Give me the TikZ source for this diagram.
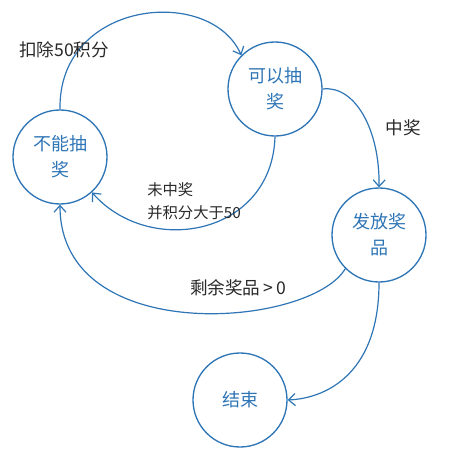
\documentclass[tikz,border=0pt]{standalone}
\usepackage{fontspec}
\setmainfont{Noto Sans CJK SC}
\usetikzlibrary{arrows.meta}
\definecolor{sblue}{RGB}{46,117,182}
\definecolor{ltext}{RGB}{40,40,40}
\begin{document}
\begin{tikzpicture}[x=0.75pt,y=-0.75pt,
  state/.style={circle,draw=sblue,line width=1pt,minimum size=70.5pt,inner sep=0pt,
    text=sblue,align=center,font=\fontsize{13.5}{19.5}\selectfont},
  edge/.style={draw=sblue,line width=0.9pt,-{Straight Barb[length=5pt,width=9pt]}},
  lab/.style={text=ltext,font=\fontsize{13.2}{17}\selectfont,inner sep=0pt},
  smalllab/.style={text=ltext,font=\fontsize{11.5}{17}\selectfont,inner sep=0pt}]
\useasboundingbox (0,0) rectangle (457,466);
\node[state] (A) at (60,157) {不能抽\\奖};
\node[state] (B) at (275,89) {可以抽\\奖};
\node[state] (C) at (379,235) {发放奖\\品};
\node[state] (D) at (240,400) {结束};
\draw[edge] (A.90) .. controls (58,0) and (210,-15) .. (B.135);
\draw[edge] (B.270) .. controls (272,235) and (150,258) .. (A.-48);
\draw[edge] (B.0) .. controls (355,85) and (380,130) .. (C.90);
\draw[edge] (C.-135) .. controls (310,328) and (60,348) .. (A.270);
\draw[edge] (C.270) .. controls (379,370) and (330,398) .. (D.0);
\node[lab] (l1) at (64,50) {扣除50积分};
\node[lab] (l2) at (403,128) {中奖};
\node[smalllab,anchor=west,align=left] (l3) at (147,201) {未中奖\\并积分大于50};
\node[lab] (l4) at (238,288) {剩余奖品\,>\,0};
\end{tikzpicture}
\end{document}
